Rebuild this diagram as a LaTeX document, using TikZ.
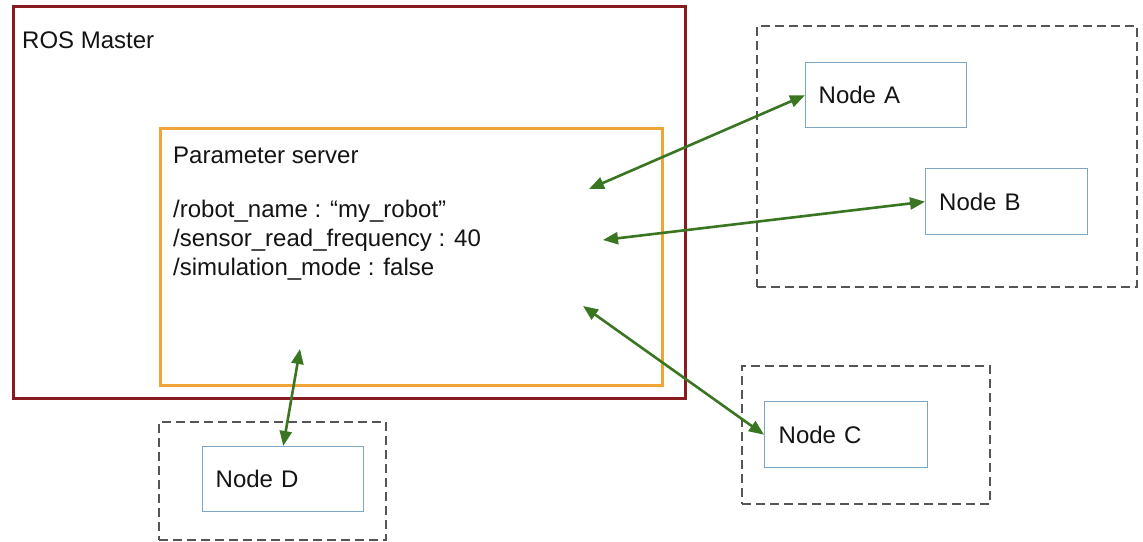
\documentclass[tikz,border=0pt]{standalone}
\usepackage{fontspec}
\setmainfont{Liberation Sans}
\usetikzlibrary{arrows.meta}

\definecolor{masterred}{HTML}{861C20}
\definecolor{paramorange}{HTML}{F0A436}
\definecolor{nodeblue}{HTML}{7DA7C6}
\definecolor{groupgray}{HTML}{555555}
\definecolor{linkgreen}{HTML}{3A7621}

\tikzset{
  txt/.style={font=\fontsize{24}{29}\selectfont, inner sep=0pt, anchor=base west, text=black!92},
  box/.style={inner sep=0pt, anchor=north west},
  masterbox/.style={box, draw=masterred, line width=3pt},
  parambox/.style={box, draw=paramorange, line width=3pt},
  groupbox/.style={box, draw=groupgray, line width=2pt, dash pattern=on 9pt off 5pt},
  rosnode/.style={box, draw=nodeblue, line width=1.4pt, minimum width=161pt, minimum height=65pt,
    font=\fontsize{24}{29}\selectfont, text=black!92, align=left, text width=135pt, inner xsep=13pt,
    text height=17pt, text depth=0pt},
  link/.style={draw=linkgreen, line width=2.6pt,
    {Triangle[length=15pt,width=12pt]}-{Triangle[length=15pt,width=12pt]}},
}

\begin{document}
\begin{tikzpicture}[x=1pt,y=-1pt]
\useasboundingbox (0,0) rectangle (1143,541);
\fill[white] (0,0) rectangle (1143,541);

% ROS master and its parameter server
\node[masterbox, minimum width=672pt, minimum height=392pt] (master) at (12,5) {};
\node[txt] (masterlabel) at (22,48) {ROS Master};
\node[parambox, minimum width=502pt, minimum height=257pt] (params) at (159,127) {};
\node[txt] (paramtitle) at (173,163) {Parameter server};
\node[txt] (p1) at (173,217) {/robot\_name : “my\_robot”};
\node[txt] (p2) at (173,246) {/sensor\_read\_frequency : 40};
\node[txt] (p3) at (173,275) {/simulation\_mode : false};

% dashed groups of nodes
\node[groupbox, minimum width=380pt, minimum height=261pt] (groupAB) at (756,25) {};
\node[groupbox, minimum width=248pt, minimum height=138pt] (groupC) at (741,365) {};
\node[groupbox, minimum width=227pt, minimum height=118pt] (groupD) at (158,421) {};

% nodes
\node[rosnode] (nodeA) at (805,62) {Node A};
\node[rosnode, minimum width=162pt, minimum height=66pt] (nodeB) at (925,168) {Node B};
\node[rosnode, minimum width=163pt, minimum height=66pt] (nodeC) at (764,401) {Node C};
\node[rosnode, minimum width=160pt] (nodeD) at (202,446) {Node D};

% ends of the links inside the parameter server
\coordinate (endA) at (589,189);
\coordinate (endB) at (603,240);
\coordinate (endC) at (583,306);
\coordinate (endD) at (300,349);

% parameter get/set links
\draw[link] (endA) -- (nodeA.west);
\draw[link] (endB) -- (nodeB.west);
\draw[link] (endC) -- (nodeC.west);
\draw[link] (endD) -- (nodeD.north);
\end{tikzpicture}
\end{document}
